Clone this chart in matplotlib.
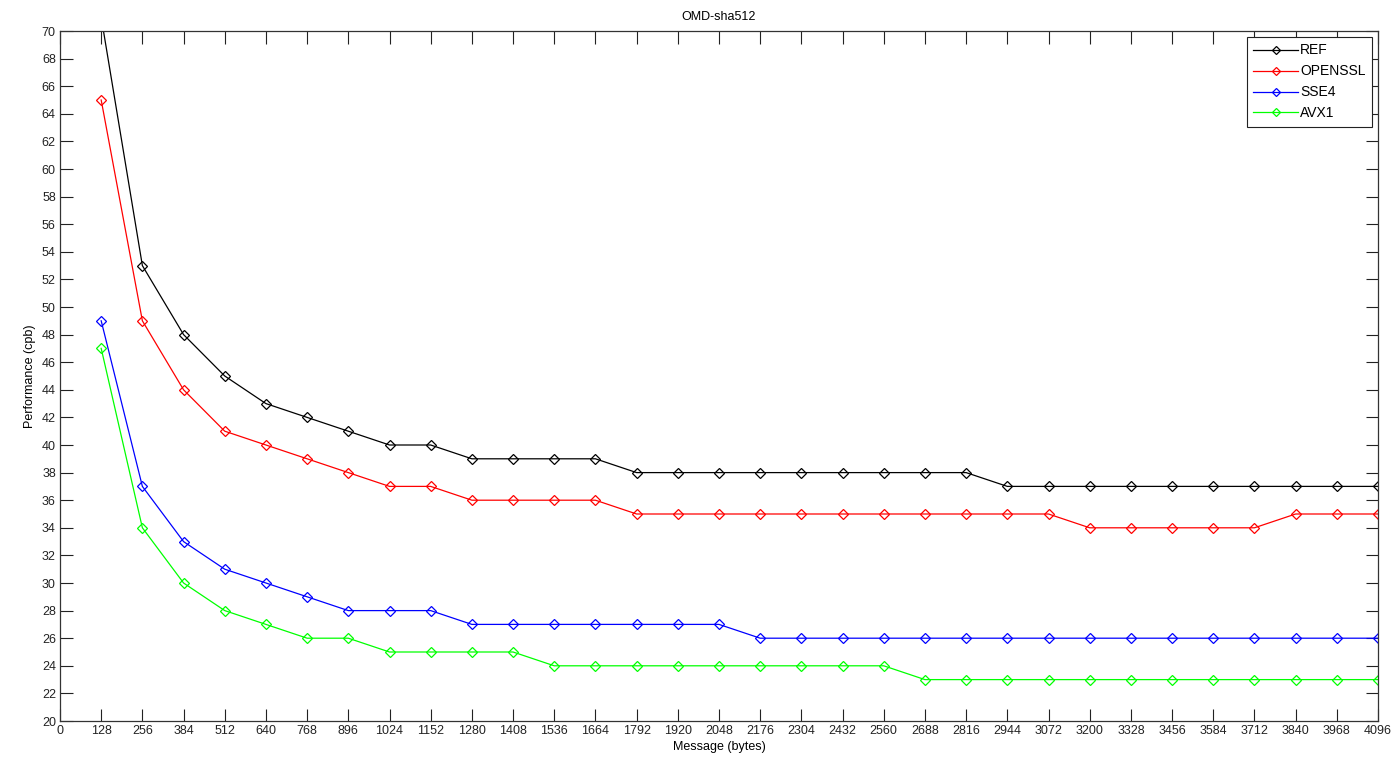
import matplotlib
matplotlib.use("Agg")
import matplotlib.pyplot as plt
import numpy as np

msg_sizes = list(range(128, 4097, 128))
ref = [71, 53, 48, 45, 43, 42, 41, 40, 40, 39, 39, 39, 39, 38, 38, 38, 38, 38, 38, 38, 38, 38, 37, 37, 37, 37, 37, 37, 37, 37, 37, 37]
openssl = [65, 49, 44, 41, 40, 39, 38, 37, 37, 36, 36, 36, 36, 35, 35, 35, 35, 35, 35, 35, 35, 35, 35, 35, 34, 34, 34, 34, 34, 35, 35, 35]
sse4 = [49, 37, 33, 31, 30, 29, 28, 28, 28, 27, 27, 27, 27, 27, 27, 27, 26, 26, 26, 26, 26, 26, 26, 26, 26, 26, 26, 26, 26, 26, 26, 26]
avx1 = [47, 34, 30, 28, 27, 26, 26, 25, 25, 25, 25, 24, 24, 24, 24, 24, 24, 24, 24, 24, 23, 23, 23, 23, 23, 23, 23, 23, 23, 23, 23, 23]
series_names = ["REF", "OPENSSL", "SSE4", "AVX1"]
series_colors = ["#000000", "#ff0000", "#0000ff", "#00ff00"]
x_ticks = list(range(0, 4097, 128))
y_ticks = list(range(20, 71, 2))

plt.rcParams['font.family'] = ['Liberation Sans', 'DejaVu Sans']
fig = plt.figure(figsize=(13.96, 7.6), dpi=100)
ax = fig.add_axes([60/1396, 1-721/760, (1378-60)/1396, (721-31)/760])

for vals, name, col in zip([ref, openssl, sse4, avx1], series_names, series_colors):
    ax.plot(msg_sizes, vals, color=col, lw=0.9, marker='D', markersize=5,
            markerfacecolor='none', markeredgecolor=col, markeredgewidth=0.9,
            label=name, clip_on=True)

ax.set_xlim(0, 4096)
ax.set_ylim(20, 70)
ax.set_xticks(x_ticks)
ax.set_yticks(y_ticks)
ax.tick_params(direction='in', length=9, width=0.8, labelsize=9, top=True, right=True, pad=3, colors='#222222')
for s in ax.spines.values():
    s.set_linewidth(0.9)
    s.set_color('#333333')
ax.set_title("OMD-sha512", fontsize=9, pad=8)
ax.set_xlabel("Message (bytes)", fontsize=9, labelpad=3)
ax.set_ylabel("Performance (cpb)", fontsize=9, labelpad=4)

leg = ax.legend(loc='upper right', fontsize=10, frameon=True, fancybox=False,
                edgecolor='#222222', framealpha=1, handlelength=3.2,
                borderaxespad=0.4, labelspacing=0.5, handletextpad=0.15,
                borderpad=0.5, markerscale=0.75)
leg.get_frame().set_linewidth(0.8)

fig.savefig("out.png", dpi=100)
